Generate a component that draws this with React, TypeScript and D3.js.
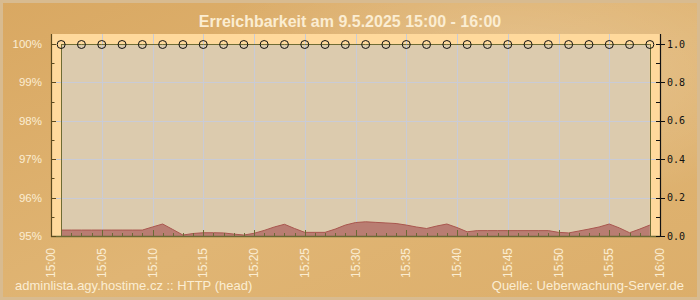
import React from 'react';
import * as d3 from 'd3';

const TITLE = 'Erreichbarkeit am 9.5.2025 15:00 - 16:00';
const HOST_LABEL = 'adminlista.agy.hostime.cz :: HTTP (head)';
const SOURCE_LABEL = 'Quelle: Ueberwachung-Server.de';

const timeTickMinutes = [0, 5, 10, 15, 20, 25, 30, 35, 40, 45, 50, 55, 60];
const timeLabels = ['15:00', '15:05', '15:10', '15:15', '15:20', '15:25', '15:30', '15:35', '15:40', '15:45', '15:50', '15:55', '16:00'];

const availabilityMinutes = [1, 3, 5, 7, 9, 11, 13, 15, 17, 19, 21, 23, 25, 27, 29, 31, 33, 35, 37, 39, 41, 43, 45, 47, 49, 51, 53, 55, 57, 59];
const availabilityValues = [100, 100, 100, 100, 100, 100, 100, 100, 100, 100, 100, 100, 100, 100, 100, 100, 100, 100, 100, 100, 100, 100, 100, 100, 100, 100, 100, 100, 100, 100];

const responseMinutes = [1, 2, 3, 4, 5, 6, 7, 8, 9, 10, 11, 12, 13, 14, 15, 16, 17, 18, 19, 20, 21, 22, 23, 24, 25, 26, 27, 28, 29, 30, 31, 32, 33, 34, 35, 36, 37, 38, 39, 40, 41, 42, 43, 44, 45, 46, 47, 48, 49, 50, 51, 52, 53, 54, 55, 56, 57, 58, 59];
const responseValues = [0.031, 0.031, 0.031, 0.031, 0.031, 0.031, 0.031, 0.031, 0.031, 0.047, 0.0625, 0.034, 0.005, 0.013, 0.017, 0.017, 0.016, 0.010, 0.005, 0.014, 0.029, 0.047, 0.061, 0.039, 0.019, 0.019, 0.019, 0.036, 0.057, 0.070, 0.074, 0.071, 0.068, 0.065, 0.057, 0.047, 0.039, 0.052, 0.0625, 0.044, 0.022, 0.028, 0.028, 0.028, 0.028, 0.028, 0.028, 0.028, 0.028, 0.019, 0.016, 0.026, 0.036, 0.047, 0.0625, 0.042, 0.017, 0.036, 0.057];

const leftTickValues = [95, 96, 97, 98, 99, 100];
const leftTickLabels = ['95%', '96%', '97%', '98%', '99%', '100%'];
const leftMinorTicks = [95.5, 96.5, 97.5, 98.5, 99.5];
const rightTickValues = [0, 0.2, 0.4, 0.6, 0.8, 1.0];
const rightTickLabels = ['0.0', '0.2', '0.4', '0.6', '0.8', '1.0'];
const rightMinorTicks = [0.1, 0.3, 0.5, 0.7, 0.9];
const minuteTicks = d3.range(0, 61);

const W = 700;
const H = 300;
const AX_L = 51;
const AX_R = 660;
const TOP = 34;
const BOT = 236;

export default function App() {
  const x = d3.scaleLinear().domain([0, 60]).range([AX_L, AX_R]);
  const yL = d3.scaleLinear().domain([95, 100]).range([BOT, 44]);
  const yR = d3.scaleLinear().domain([0, 1]).range([BOT, 44]);
  const px = (v: number) => Math.round(v) + 0.5;

  const respData = responseMinutes.map((m, i) => ({ m, v: responseValues[i] }));
  const availData = availabilityMinutes.map((m, i) => ({ m, v: availabilityValues[i] }));

  const area = d3.area<{ m: number; v: number }>()
    .x(d => x(d.m))
    .y0(BOT)
    .y1(d => yR(d.v));
  const line = d3.line<{ m: number; v: number }>()
    .x(d => x(d.m))
    .y(d => yR(d.v));
  const availLine = d3.line<{ m: number; v: number }>()
    .x(d => x(d.m))
    .y(d => yL(d.v) + 0.5);

  const x1 = x(responseMinutes[0]);
  const x59 = x(responseMinutes[responseMinutes.length - 1]);

  const sans = 'Liberation Sans, Arial, sans-serif';
  const mono = 'DejaVu Sans Mono, Liberation Mono, monospace';
  const cream = '#fbedd2';

  return (
    <svg width={W} height={H} style={{ position: 'absolute', left: 0, top: 0 }} xmlns="http://www.w3.org/2000/svg">
      <defs>
        <linearGradient id="bg" x1="0" y1="0" x2="1" y2="1">
          <stop offset="0%" stopColor="#d9a862" />
          <stop offset="55%" stopColor="#e0b574" />
          <stop offset="100%" stopColor="#dcae6a" />
        </linearGradient>
        <radialGradient id="glow" cx="0.72" cy="0.25" r="0.45">
          <stop offset="0%" stopColor="#ffffff" stopOpacity="0.22" />
          <stop offset="100%" stopColor="#ffffff" stopOpacity="0" />
        </radialGradient>
      </defs>
      <rect x={0} y={0} width={W} height={H} fill="url(#bg)" />
      <rect x={0} y={0} width={W} height={H} fill="url(#glow)" />
      <rect x={1.5} y={1.5} width={W - 3} height={H - 3} fill="none" stroke="#d8bb90" strokeWidth={3} />

      {/* title */}
      <text x={350} y={27} textAnchor="middle" fontFamily={sans} fontSize={16} fontWeight="bold" fill={cream}>{TITLE}</text>

      {/* yellow strip area */}
      <rect x={AX_L} y={TOP} width={AX_R - AX_L} height={BOT - TOP} fill="#ffd99c" />
      {/* inner plot */}
      <rect x={x1} y={44} width={x59 - x1} height={BOT - 44} fill="#dccbae" />

      {/* grid */}
      {leftTickValues.filter(v => v > 95 && v < 100).map(v => (
        <line key={'gh' + v} x1={AX_L} x2={AX_R} y1={px(yL(v))} y2={px(yL(v))} stroke="#c9cbd6" strokeWidth={1} />
      ))}
      {timeTickMinutes.filter(m => m > 0 && m < 60).map(m => (
        <line key={'gv' + m} x1={px(x(m))} x2={px(x(m))} y1={TOP} y2={BOT} stroke="#c9cbd6" strokeWidth={1} />
      ))}

      {/* response area */}
      <path d={area(respData) || ''} fill="#b97d72" />
      <path d={line(respData) || ''} fill="none" stroke="#a9574f" strokeWidth={1} />

      {/* inner border */}
      <line x1={px(x1)} x2={px(x1)} y1={44} y2={BOT} stroke="#6f6c34" strokeWidth={1} />
      <line x1={px(x59)} x2={px(x59)} y1={44} y2={BOT} stroke="#6f6c34" strokeWidth={1} />

      {/* availability line */}
      <path d={availLine(availData) || ''} fill="none" stroke="#6f6c34" strokeWidth={1} />
      {availData.map(d => (
        <circle key={'c' + d.m} cx={x(d.m)} cy={yL(d.v) + 0.5} r={4} fill="none" stroke="#111" strokeWidth={1} />
      ))}

      {/* bottom axis */}
      <line x1={AX_L} x2={AX_R} y1={BOT + 0.5} y2={BOT + 0.5} stroke="#6b6a35" strokeWidth={1.5} />
      {minuteTicks.map(m => (
        <line key={'mt' + m} x1={px(x(m))} x2={px(x(m))} y1={BOT} y2={BOT - (m % 5 === 0 ? 6 : 3)} stroke="#6b6a35" strokeWidth={1} />
      ))}

      {/* left axis */}
      <line x1={px(AX_L)} x2={px(AX_L)} y1={TOP} y2={BOT + 1} stroke="#5c4a1e" strokeWidth={1.2} />
      {leftTickValues.map(v => (
        <line key={'lt' + v} x1={AX_L} x2={AX_L + 5} y1={px(yL(v))} y2={px(yL(v))} stroke="#5c4a1e" strokeWidth={1} />
      ))}
      {leftMinorTicks.map(v => (
        <line key={'lm' + v} x1={AX_L} x2={AX_L + 3.5} y1={px(yL(v))} y2={px(yL(v))} stroke="#5c4a1e" strokeWidth={1} />
      ))}
      {leftTickValues.map((v, i) => (
        <text key={'ll' + v} x={42} y={yL(v) + 4} textAnchor="end" fontFamily={sans} fontSize={11.5} fill={cream}>{leftTickLabels[i]}</text>
      ))}

      {/* right axis */}
      <line x1={px(AX_R)} x2={px(AX_R)} y1={TOP} y2={BOT + 1} stroke="#111" strokeWidth={1.2} />
      {rightTickValues.map(v => (
        <line key={'rt' + v} x1={AX_R - 4} x2={AX_R + 5} y1={px(yR(v))} y2={px(yR(v))} stroke="#111" strokeWidth={1} />
      ))}
      {rightMinorTicks.map(v => (
        <line key={'rm' + v} x1={AX_R - 4} x2={AX_R} y1={px(yR(v))} y2={px(yR(v))} stroke="#111" strokeWidth={1} />
      ))}
      {rightTickValues.map((v, i) => (
        <text key={'rl' + v} x={667} y={yR(v) + 3.5} fontFamily={mono} fontSize={10} fill="#111">{rightTickLabels[i]}</text>
      ))}

      {/* x labels */}
      {timeTickMinutes.map((m, i) => (
        <text key={'xl' + m} transform={`translate(${x(m) + 4},248) rotate(-90)`} textAnchor="end" fontFamily={sans} fontSize={12} fill={cream}>{timeLabels[i]}</text>
      ))}

      {/* footer */}
      <text x={15} y={290} fontFamily={sans} fontSize={13} fill={cream}>{HOST_LABEL}</text>
      <text x={684} y={290} textAnchor="end" fontFamily={sans} fontSize={13} fill={cream}>{SOURCE_LABEL}</text>
    </svg>
  );
}
